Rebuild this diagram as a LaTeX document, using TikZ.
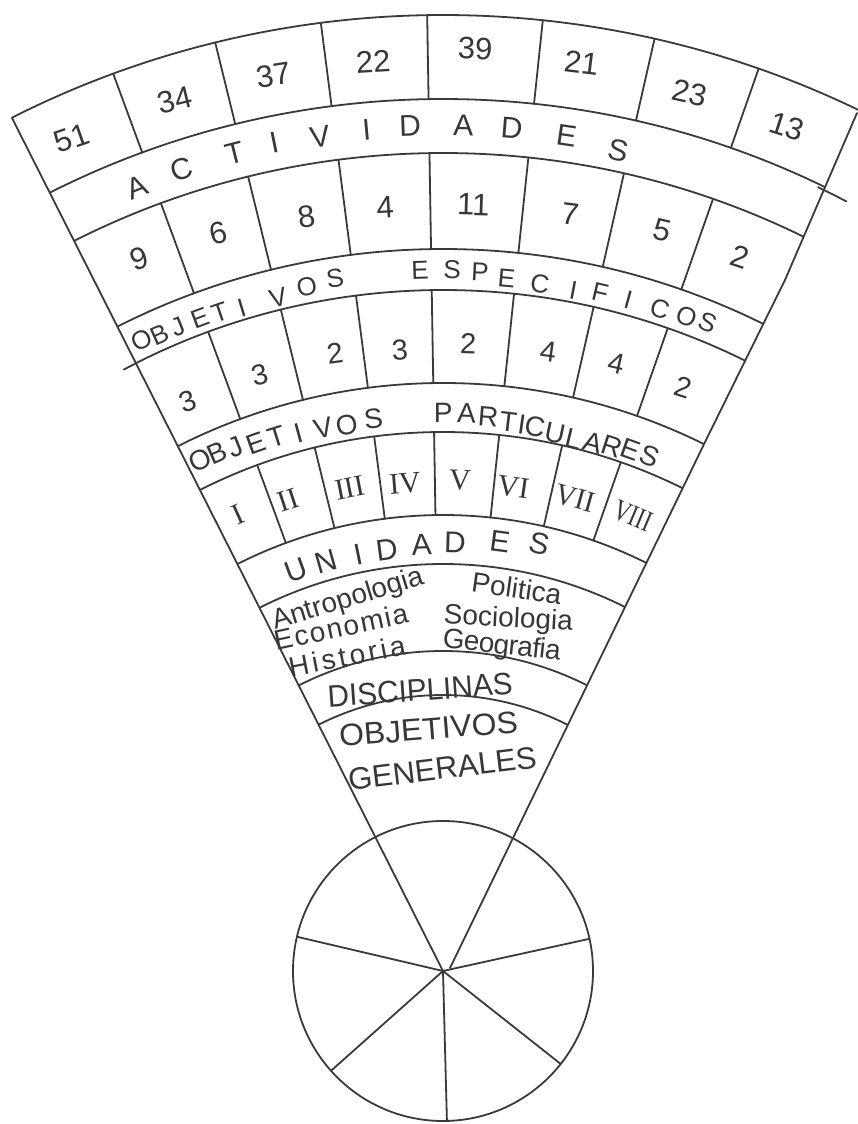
\documentclass[tikz,border=0pt]{standalone}
\usepackage{fontspec}
\setmainfont{Liberation Sans}
\newfontfamily\romanfnt{Liberation Serif}
\definecolor{lc}{RGB}{58,58,58}
\definecolor{tc}{RGB}{55,55,55}
\tikzset{
  ln/.style={draw=lc, line width=1.8pt, line cap=round, line join=round},
  lbl/.style={text=tc, inner sep=0pt, outer sep=0pt, anchor=center},
  numlbl/.style={lbl, font=\fontsize{31}{31}\selectfont},
  bandA/.style={lbl, font=\fontsize{30}{30}\selectfont},
  bandB/.style={lbl, font=\fontsize{26}{26}\selectfont},
  bandC/.style={lbl, font=\fontsize{28}{28}\selectfont},
  romlbl/.style={lbl, font=\romanfnt\fontsize{30}{30}\selectfont},
  disc/.style={lbl, font=\fontsize{28}{28}\selectfont},
  capword/.style={lbl, font=\fontsize{31}{31}\selectfont},
}
\begin{document}
\begin{tikzpicture}[x=1pt,y=1pt]
\useasboundingbox (-443,-154) rectangle (415,970);

% named corner points of the fan
\coordinate (apexL) at (0,-1);
\coordinate (apexR) at (7,2);
\coordinate (topL) at (-431,852);
\coordinate (r1) at (264,532);
\coordinate (r2) at (342,690);
\coordinate (topR) at (414,857);

% concentric arcs, clipped to the fan
\begin{scope}
  \clip (apexL) -- (-470,929) -- (0,1100) -- (436,907) -- (topR) -- (r2) -- (r1) -- (apexR) -- cycle;
  \foreach \r in {955,871,817,721,680,587,538,455,406,319,275}
    \draw[ln] (50:\r) arc[start angle=50, end angle=130, radius=\r];
\end{scope}
% small overshoots of the hand drawing
\draw[ln] (62.3:868) arc[start angle=62.3, end angle=64.4, radius=868];
\draw[ln] (116.8:680) arc[start angle=116.8, end angle=118.0, radius=680];

% fan edges
\draw[ln] (apexL) -- (topL);
\draw[ln] (apexR) -- (r1) -- (r2) -- (topR);

% radial dividers
\foreach \a in {110.2,103.8,97.35,90.95,84.0,77.2,70.7} {
  \draw[ln] (\a:955) -- (\a:871);
  \draw[ln] (\a:817) -- (\a:721);
  \draw[ln] (\a:680) -- (\a:587);
  \draw[ln] (\a:538) -- (\a:455);
}

% circle with spokes
\coordinate (cc) at (0,-1);
\draw[ln] (cc) circle[radius=150];
\foreach \a in {166.8,221.7,271.5,321.7,12.4}
  \draw[ln] (cc) -- ++(\a:150);

% numbers, top row
\foreach \lab/\a/\r [count=\i] in {51/114.06/911,34/107.12/910,37/100.74/911,22/94.39/911,39/88.0/922,21/81.32/918,23/74.27/911,13/67.83/911}
  \node[numlbl, rotate={0.8*(\a-90)}] (toprow\i) at (\a:\r) {\lab};
% numbers, second row
\foreach \lab/\a/\r [count=\i] in {9/113.13/774,6/106.96/770,8/100.28/766,4/94.35/765,11/87.73/766,7/80.47/767,5/73.46/772,2/67.4/772}
  \node[numlbl, rotate={0.8*(\a-90)}] (midrow\i) at (\a:\r) {\lab};
% numbers, third row
\foreach \lab/\a/\r [count=\i] in {3/114.14/623,3/107.1/623,2/99.93/626,3/93.98/621,2/87.69/627,4/80.33/627,4/74.06/631,2/67.6/630}
  \node[numlbl, font=\fontsize{29}{29}\selectfont, rotate={0.8*(\a-90)}] (lowrow\i) at (\a:\r) {\lab};

% ACTIVIDADES
\foreach \lab/\a/\r [count=\i] in {A/111.36/841,C/108.09/842,T/104.29/843,I/101.49/844,V/98.4/842,I/95.19/844,D/92.24/845,A/88.62/845,D/85.33/845,E/81.57/843,S/77.91/838}
  \node[bandA, rotate={\a-90}] (act\i) at (\a:\r) {\lab};

% OBJETIVOS ESPECIFICOS
\foreach \lab/\a/\r [count=\i] in {O/115.56/698,B/114.02/695,J/112.37/696,E/110.45/696,T/108.76/694,I/106.92/692,V/103.78/692,O/101.28/697,S/98.87/700,E/91.88/700,S/89.26/700,P/86.97/699,E/84.74/695,C/81.96/693,I/79.15/692,F/76.94/695,I/74.54/695,C/71.84/696,O/69.55/697,S/67.75/700}
  \node[bandB, rotate={\a-90}] (esp\i) at (\a:\r) {\lab};

% OBJETIVOS PARTICULARES
\foreach \lab/\a/\r [count=\i] in {O/115.47/565,B/113.65/564,J/111.68/563,E/109.48/559,T/107.32/559,I/105.09/556,V/102.46/555,O/100.02/553,S/97.2/556,P/89.97/557,A/87.56/557,R/85.32/555,T/83.21/552,I/81.78/551,C/80.39/551,U/78.21/548,L/76.23/547,A/74.07/548,R/72.13/550,E/70.22/553,S/68.04/554}
  \node[bandC, rotate={\a-90}] (par\i) at (\a:\r) {\lab};

% Roman numerals
\foreach \lab/\a/\r/\xs [count=\i] in {I/114.22/499/1,II/108.22/495/1,III/100.93/491/1,IV/94.46/488/1,V/88.0/490/1,VI/81.72/488/1,VII/74.37/490/0.95,VIII/67.23/492/0.75}
  \node[romlbl, rotate={\a-90}, xscale=\xs] (rom\i) at (\a:\r) {\lab};

% UNIDADES
\foreach \lab/\a/\r [count=\i] in {U/110.09/426,N/105.9/425,I/101.54/424,D/97.63/424,A/92.87/426,D/88.4/428,E/82.42/432,S/77.19/437}
  \node[bandA, rotate={\a-90}] (uni\i) at (\a:\r) {\lab};

% disciplines
\node[disc, rotate=17] (antro) at (-94.7,370) {Antropologia};
\node[disc, rotate=12] (econ) at (-102,343) {\addfontfeatures{LetterSpace=6}Economia};
\node[disc, rotate=11] (hist) at (-96,314) {\addfontfeatures{LetterSpace=12}Historia};
\node[disc, rotate=-8] (poli) at (73.7,381.7) {Politica};
\node[disc, rotate=-3] (soci) at (65.3,350) {Sociologia};
\node[disc, rotate=-6] (geog) at (58.7,323.3) {\addfontfeatures{LetterSpace=-2}Geografia};

% lower labels
\node[capword, rotate=4, xscale=0.96] (discip) at (-23,280) {DISCIPLINAS};
\node[capword, rotate=4.7, xscale=1.03] (objgen1) at (-14.5,241) {OBJETIVOS};
\node[capword, rotate=7] (objgen2) at (-0.7,201.5) {GENERALES};
\end{tikzpicture}
\end{document}
